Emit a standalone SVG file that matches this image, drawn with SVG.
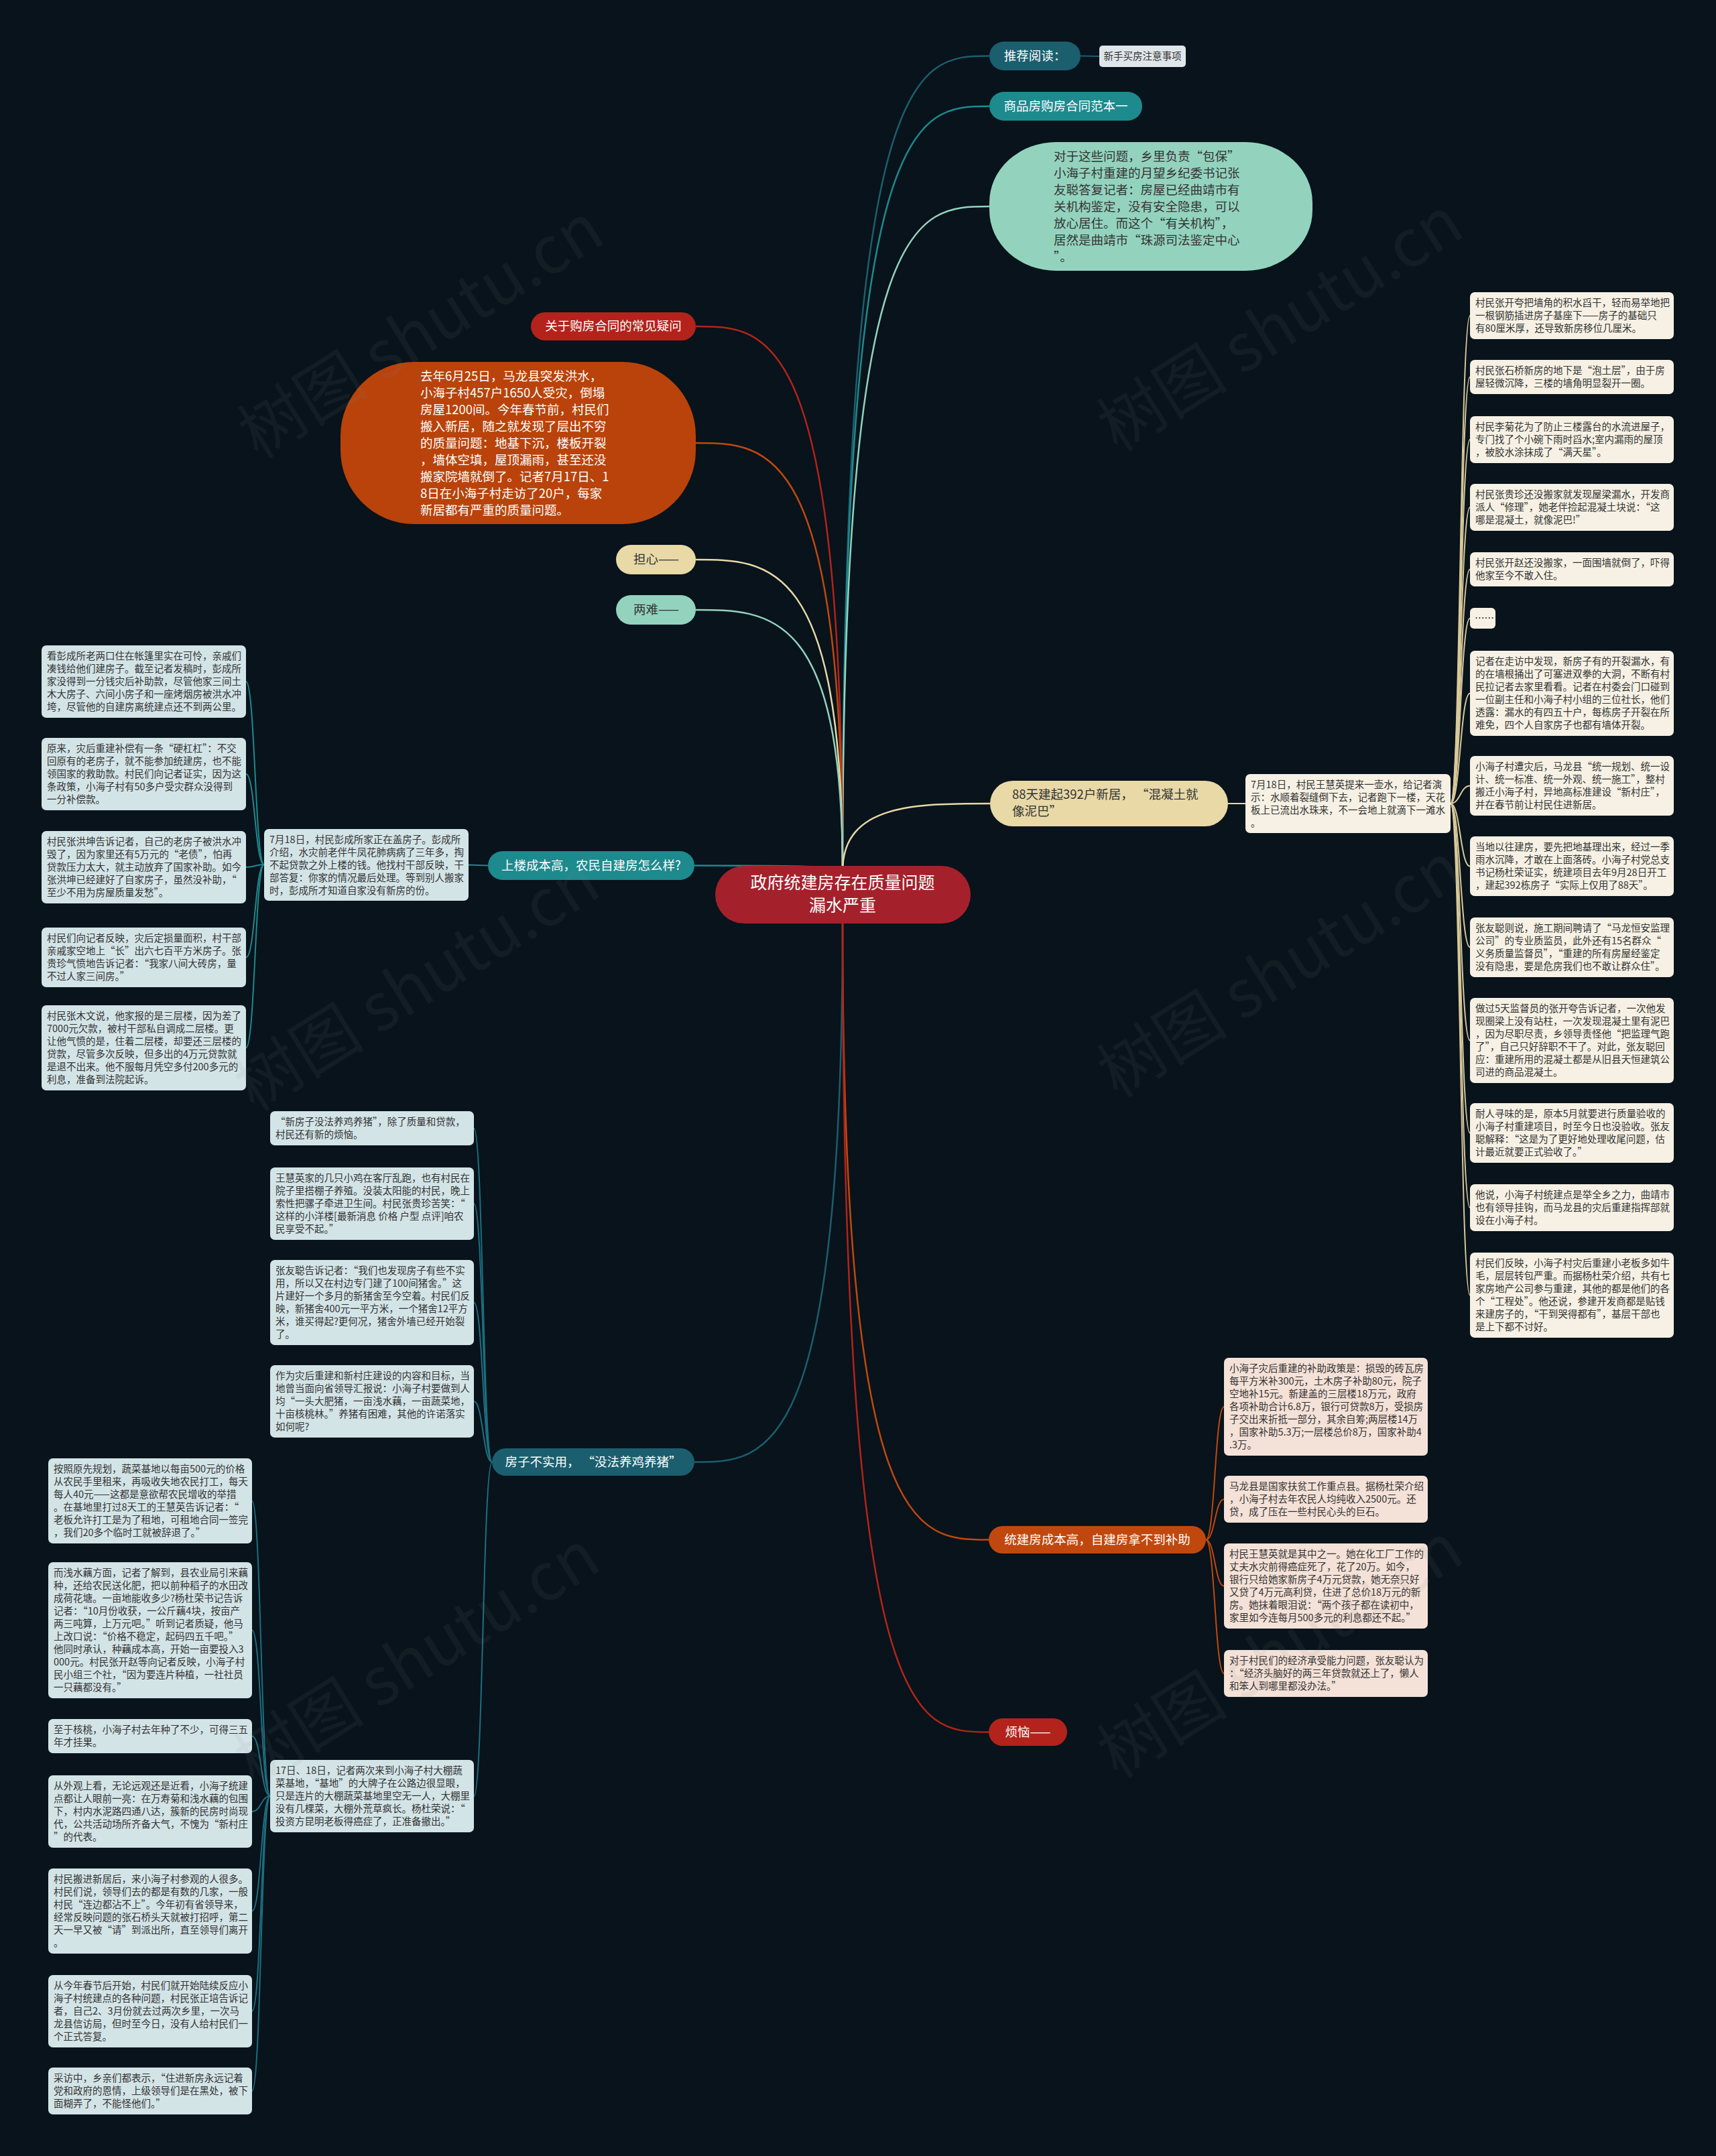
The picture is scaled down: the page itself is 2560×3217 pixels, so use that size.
<svg xmlns="http://www.w3.org/2000/svg" width="2560" height="3217" viewBox="0 0 2560 3217">
<style>
text{font-family:"Noto Sans CJK SC","Noto Sans",sans-serif}
.lf{font-size:14.5px;fill:#333}
.br{font-size:18.5px;fill:#fff}
.brd{font-size:18.5px;fill:#333}
.c{text-anchor:middle}
.ln{fill:none;stroke-width:2.5}
.sl{fill:none;stroke-width:2}
.wm{font-size:98px;fill:#808080;fill-opacity:0.09}
</style>
<rect width="2560" height="3217" fill="#08131b"/>
<g id="connectors">
<path class="ln" stroke="#1b5e6e" d="M1257 1300 C1257 83.5 1366 83.5 1476 83.5"/>
<path class="ln" stroke="#1d8a8e" d="M1257 1300 C1257 158.5 1366 158.5 1476 158.5"/>
<path class="ln" stroke="#93d3be" d="M1257 1300 C1257 308 1366 308 1476 308"/>
<path class="ln" stroke="#b3231b" d="M1257 1300 C1257 487 1147 487 1038 487"/>
<path class="ln" stroke="#c0480e" d="M1257 1300 C1257 661 1147 661 1038 661"/>
<path class="ln" stroke="#e8d9a7" d="M1257 1300 C1257 835 1147 835 1038 835"/>
<path class="ln" stroke="#93d3be" d="M1257 1300 C1257 910 1147 910 1038 910"/>
<path class="ln" stroke="#e8d9a7" d="M1257 1300 C1257 1199 1367 1199 1477 1199"/>
<path class="ln" stroke="#1d8a8e" d="M1257 1300 C1257 1291.5 1146 1291.5 1036 1291.5"/>
<path class="ln" stroke="#1b5e6e" d="M1257 1370 C1257 2181.5 1146 2181.5 1036 2181.5"/>
<path class="ln" stroke="#c0480e" d="M1257 1370 C1257 2297.5 1366 2297.5 1475 2297.5"/>
<path class="ln" stroke="#b3231b" d="M1257 1370 C1257 2584.5 1366 2584.5 1475 2584.5"/>
<path class="sl" stroke="#1b5e6e" d="M1612 83.5 L1640 84"/>
<path class="sl" stroke="#1d8a8e" d="M728 1291.5 L699 1290.5"/>
<path class="sl" stroke="#e8d9a7" d="M1832 1199 L1858 1199"/>
<g stroke="#d9c99a" class="sl">
<path d="M2164 1199 C2178.5 1199 2178.5 471 2193 471"/>
<path d="M2164 1199 C2178.5 1199 2178.5 562.5 2193 562.5"/>
<path d="M2164 1199 C2178.5 1199 2178.5 656 2193 656"/>
<path d="M2164 1199 C2178.5 1199 2178.5 757 2193 757"/>
<path d="M2164 1199 C2178.5 1199 2178.5 849.5 2193 849.5"/>
<path d="M2164 1199 C2178.5 1199 2178.5 922.5 2193 922.5"/>
<path d="M2164 1199 C2178.5 1199 2178.5 1034.5 2193 1034.5"/>
<path d="M2164 1199 C2178.5 1199 2178.5 1172.5 2193 1172.5"/>
<path d="M2164 1199 C2178.5 1199 2178.5 1292.5 2193 1292.5"/>
<path d="M2164 1199 C2178.5 1199 2178.5 1413.5 2193 1413.5"/>
<path d="M2164 1199 C2178.5 1199 2178.5 1552.5 2193 1552.5"/>
<path d="M2164 1199 C2178.5 1199 2178.5 1690.5 2193 1690.5"/>
<path d="M2164 1199 C2178.5 1199 2178.5 1802 2193 1802"/>
<path d="M2164 1199 C2178.5 1199 2178.5 1932.5 2193 1932.5"/>
</g>
<g stroke="#1d8a8e" class="sl">
<path d="M394 1290 C380.5 1290 380.5 1017 367 1017"/>
<path d="M394 1290 C380.5 1290 380.5 1155 367 1155"/>
<path d="M394 1290 C380.5 1290 380.5 1294 367 1294"/>
<path d="M394 1290 C380.5 1290 380.5 1428.5 367 1428.5"/>
<path d="M394 1290 C380.5 1290 380.5 1563.5 367 1563.5"/>
</g>
<g stroke="#1d6f80" class="sl">
<path d="M734 2181.5 C720.5 2181.5 720.5 1683.5 707 1683.5"/>
<path d="M734 2181.5 C720.5 2181.5 720.5 1796 707 1796"/>
<path d="M734 2181.5 C720.5 2181.5 720.5 1943.5 707 1943.5"/>
<path d="M734 2181.5 C720.5 2181.5 720.5 2091 707 2091"/>
<path d="M734 2181.5 C720.5 2181.5 720.5 2680 707 2680"/>
</g>
<g stroke="#1d6f80" class="sl">
<path d="M403 2680 C389.5 2680 389.5 2239.5 376 2239.5"/>
<path d="M403 2680 C389.5 2680 389.5 2432.5 376 2432.5"/>
<path d="M403 2680 C389.5 2680 389.5 2590.5 376 2590.5"/>
<path d="M403 2680 C389.5 2680 389.5 2703 376 2703"/>
<path d="M403 2680 C389.5 2680 389.5 2851.5 376 2851.5"/>
<path d="M403 2680 C389.5 2680 389.5 3001 376 3001"/>
<path d="M403 2680 C389.5 2680 389.5 3120 376 3120"/>
</g>
<g stroke="#c0480e" class="sl">
<path d="M1799 2297.5 C1812.5 2297.5 1812.5 2099 1826 2099"/>
<path d="M1799 2297.5 C1812.5 2297.5 1812.5 2237 1826 2237"/>
<path d="M1799 2297.5 C1812.5 2297.5 1812.5 2366.5 1826 2366.5"/>
<path d="M1799 2297.5 C1812.5 2297.5 1812.5 2497 1826 2497"/>
</g>
</g>

<g id="center"><rect x="1067" y="1292" width="381" height="86" rx="43" fill="#a4212b"/>
<text class="c" x="1257" y="1326" font-size="25" fill="#fff">政府统建房存在质量问题</text>
<text class="c" x="1257" y="1360" font-size="25" fill="#fff">漏水严重</text></g>

<g id="n-tuijian"><rect x="1476" y="62" width="136" height="43" rx="21.5" fill="#1b5e6e"/><text class="br c" x="1544" y="90">推荐阅读：</text></g>
<g id="n-xinshou"><rect x="1640" y="68" width="129" height="32" rx="5" fill="#dfe6ea"/><text class="lf c" x="1704.5" y="89">新手买房注意事项</text></g>
<g id="n-hetong"><rect x="1476" y="137" width="228" height="43" rx="21.5" fill="#1d8a8e"/><text class="br c" x="1590" y="165">商品房购房合同范本一</text></g>
<g id="n-baobao"><rect x="1476" y="212" width="482" height="192" rx="100" ry="90" fill="#93d3be"/>
<text class="brd"><tspan x="1572" y="240">对于这些问题，乡里负责“包保”</tspan><tspan x="1572" y="265">小海子村重建的月望乡纪委书记张</tspan><tspan x="1572" y="290">友聪答复记者：房屋已经曲靖市有</tspan><tspan x="1572" y="315">关机构鉴定，没有安全隐患，可以</tspan><tspan x="1572" y="340">放心居住。而这个“有关机构”，</tspan><tspan x="1572" y="365">居然是曲靖市“珠源司法鉴定中心</tspan><tspan x="1572" y="390">”。</tspan></text></g>

<g id="n-yiwen"><rect x="792" y="466" width="246" height="42" rx="21" fill="#b3231b"/><text class="br c" x="915" y="493">关于购房合同的常见疑问</text></g>
<g id="n-qunian"><rect x="508" y="540" width="530" height="242" rx="110" ry="110" fill="#b9430b"/>
<text class="br"><tspan x="627" y="568">去年6月25日，马龙县突发洪水，</tspan><tspan x="627" y="593">小海子村457户1650人受灾，倒塌</tspan><tspan x="627" y="618">房屋1200间。今年春节前，村民们</tspan><tspan x="627" y="643">搬入新居，随之就发现了层出不穷</tspan><tspan x="627" y="668">的质量问题：地基下沉，楼板开裂</tspan><tspan x="627" y="693">，墙体空填，屋顶漏雨，甚至还没</tspan><tspan x="627" y="718">搬家院墙就倒了。记者7月17日、1</tspan><tspan x="627" y="743">8日在小海子村走访了20户，每家</tspan><tspan x="627" y="768">新居都有严重的质量问题。</tspan></text></g>
<g id="n-danxin"><rect x="919" y="813" width="119" height="44" rx="22" fill="#e8d9a7"/><text class="brd c" x="979" y="841">担心——</text></g>
<g id="n-liangnan"><rect x="919" y="888" width="119" height="44" rx="22" fill="#93d3be"/><text class="brd c" x="979" y="916">两难——</text></g>

<g id="n-shanglou"><rect x="728" y="1270" width="308" height="43" rx="21.5" fill="#1d8a8e"/><text class="br c" x="882" y="1298">上楼成本高，农民自建房怎么样?</text></g>
<g id="n-pengcs"><rect x="394" y="1237" width="305" height="107" rx="7" fill="#d3e4e7"/>
<text class="lf"><tspan x="402" y="1258">7月18日，村民彭成所家正在盖房子。彭成所</tspan><tspan x="402" y="1277">介绍，水灾前老伴牛凤花肺病病了三年多，掏</tspan><tspan x="402" y="1296">不起贷款之外上楼的钱。他找村干部反映，干</tspan><tspan x="402" y="1315">部答复：你家的情况最后处理。等到别人搬家</tspan><tspan x="402" y="1334">时，彭成所才知道自家没有新房的份。</tspan></text></g>

<g id="l-1"><rect x="62" y="963" width="305" height="108" rx="7" fill="#d3e4e7"/>
<text class="lf"><tspan x="70" y="984">看彭成所老两口住在帐篷里实在可怜，亲戚们</tspan><tspan x="70" y="1003">凑钱给他们建房子。截至记者发稿时，彭成所</tspan><tspan x="70" y="1022">家没得到一分钱灾后补助款，尽管他家三间土</tspan><tspan x="70" y="1041">木大房子、六间小房子和一座烤烟房被洪水冲</tspan><tspan x="70" y="1060">垮，尽管他的自建房离统建点还不到两公里。</tspan></text></g>
<g id="l-2"><rect x="62" y="1101" width="305" height="108" rx="7" fill="#d3e4e7"/>
<text class="lf"><tspan x="70" y="1122">原来，灾后重建补偿有一条“硬杠杠”：不交</tspan><tspan x="70" y="1141">回原有的老房子，就不能参加统建房，也不能</tspan><tspan x="70" y="1160">领国家的救助款。村民们向记者证实，因为这</tspan><tspan x="70" y="1179">条政策，小海子村有50多户受灾群众没得到</tspan><tspan x="70" y="1198">一分补偿款。</tspan></text></g>
<g id="l-3"><rect x="62" y="1240" width="305" height="108" rx="7" fill="#d3e4e7"/>
<text class="lf"><tspan x="70" y="1261">村民张洪坤告诉记者，自己的老房子被洪水冲</tspan><tspan x="70" y="1280">毁了，因为家里还有5万元的“老债”，怕再</tspan><tspan x="70" y="1299">贷款压力太大，就主动放弃了国家补助。如今</tspan><tspan x="70" y="1318">张洪坤已经建好了自家房子，虽然没补助，“</tspan><tspan x="70" y="1337">至少不用为房屋质量发愁”。</tspan></text></g>
<g id="l-4"><rect x="62" y="1384" width="305" height="89" rx="7" fill="#d3e4e7"/>
<text class="lf"><tspan x="70" y="1405">村民们向记者反映，灾后定损量面积，村干部</tspan><tspan x="70" y="1424">亲戚家空地上“长”出六七百平方米房子。张</tspan><tspan x="70" y="1443">贵珍气愤地告诉记者：“我家八间大砖房，量</tspan><tspan x="70" y="1462">不过人家三间房。”</tspan></text></g>
<g id="l-5"><rect x="62" y="1500" width="305" height="127" rx="7" fill="#d3e4e7"/>
<text class="lf"><tspan x="70" y="1521">村民张木文说，他家报的是三层楼，因为差了</tspan><tspan x="70" y="1540">7000元欠款，被村干部私自调成二层楼。更</tspan><tspan x="70" y="1559">让他气愤的是，住着二层楼，却要还三层楼的</tspan><tspan x="70" y="1578">贷款，尽管多次反映，但多出的4万元贷款就</tspan><tspan x="70" y="1597">是退不出来。他不服每月凭空多付200多元的</tspan><tspan x="70" y="1616">利息，准备到法院起诉。</tspan></text></g>

<g id="n-88tian"><rect x="1477" y="1165" width="355" height="68" rx="34" fill="#e8d9a7"/>
<text class="brd"><tspan x="1510" y="1192">88天建起392户新居， “混凝土就</tspan><tspan x="1510" y="1217">像泥巴”</tspan></text></g>
<g id="n-wanghy"><rect x="1858" y="1155" width="306" height="88" rx="7" fill="#f6f1e4"/>
<text class="lf"><tspan x="1866" y="1176">7月18日，村民王慧英提来一壶水，给记者演</tspan><tspan x="1866" y="1195">示：水顺着裂缝倒下去，记者跑下一楼，天花</tspan><tspan x="1866" y="1214">板上已流出水珠来，不一会地上就滴下一滩水</tspan><tspan x="1866" y="1233">。</tspan></text></g>

<g id="r-1"><rect x="2193" y="436" width="304" height="70" rx="7" fill="#f6f1e4"/>
<text class="lf"><tspan x="2201" y="457">村民张开夸把墙角的积水舀干，轻而易举地把</tspan><tspan x="2201" y="476">一根钢筋插进房子基座下——房子的基础只</tspan><tspan x="2201" y="495">有80厘米厚，还导致新房移位几厘米。</tspan></text></g>
<g id="r-2"><rect x="2193" y="537" width="304" height="51" rx="7" fill="#f6f1e4"/>
<text class="lf"><tspan x="2201" y="558">村民张石桥新房的地下是“泡土层”，由于房</tspan><tspan x="2201" y="577">屋轻微沉降，三楼的墙角明显裂开一圈。</tspan></text></g>
<g id="r-3"><rect x="2193" y="621" width="304" height="70" rx="7" fill="#f6f1e4"/>
<text class="lf"><tspan x="2201" y="642">村民李菊花为了防止三楼露台的水流进屋子，</tspan><tspan x="2201" y="661">专门找了个小碗下雨时舀水;室内漏雨的屋顶</tspan><tspan x="2201" y="680">，被胶水涂抹成了“满天星”。</tspan></text></g>
<g id="r-4"><rect x="2193" y="722" width="304" height="70" rx="7" fill="#f6f1e4"/>
<text class="lf"><tspan x="2201" y="743">村民张贵珍还没搬家就发现屋梁漏水，开发商</tspan><tspan x="2201" y="762">派人“修理”，她老伴捡起混凝土块说：“这</tspan><tspan x="2201" y="781">哪是混凝土，就像泥巴!”</tspan></text></g>
<g id="r-5"><rect x="2193" y="824" width="304" height="51" rx="7" fill="#f6f1e4"/>
<text class="lf"><tspan x="2201" y="845">村民张开赵还没搬家，一面围墙就倒了，吓得</tspan><tspan x="2201" y="864">他家至今不敢入住。</tspan></text></g>
<g id="r-6"><rect x="2193" y="907" width="38" height="31" rx="6" fill="#f6f1e4"/><text class="lf" x="2200" y="928">……</text></g>
<g id="r-7"><rect x="2193" y="971" width="304" height="127" rx="7" fill="#f6f1e4"/>
<text class="lf"><tspan x="2201" y="992">记者在走访中发现，新房子有的开裂漏水，有</tspan><tspan x="2201" y="1011">的在墙根捅出了可塞进双拳的大洞，不断有村</tspan><tspan x="2201" y="1030">民拉记者去家里看看。记者在村委会门口碰到</tspan><tspan x="2201" y="1049">一位副主任和小海子村小组的三位社长，他们</tspan><tspan x="2201" y="1068">透露：漏水的有四五十户，每栋房子开裂在所</tspan><tspan x="2201" y="1087">难免，四个人自家房子也都有墙体开裂。</tspan></text></g>
<g id="r-8"><rect x="2193" y="1128" width="304" height="89" rx="7" fill="#f6f1e4"/>
<text class="lf"><tspan x="2201" y="1149">小海子村遭灾后，马龙县“统一规划、统一设</tspan><tspan x="2201" y="1168">计、统一标准、统一外观、统一施工”，整村</tspan><tspan x="2201" y="1187">搬迁小海子村，异地高标准建设“新村庄”，</tspan><tspan x="2201" y="1206">并在春节前让村民住进新居。</tspan></text></g>
<g id="r-9"><rect x="2193" y="1248" width="304" height="89" rx="7" fill="#f6f1e4"/>
<text class="lf"><tspan x="2201" y="1269">当地以往建房，要先把地基理出来，经过一季</tspan><tspan x="2201" y="1288">雨水沉降，才敢在上面落砖。小海子村党总支</tspan><tspan x="2201" y="1307">书记杨杜荣证实，统建项目去年9月28日开工</tspan><tspan x="2201" y="1326">，建起392栋房子“实际上仅用了88天”。</tspan></text></g>
<g id="r-10"><rect x="2193" y="1369" width="304" height="89" rx="7" fill="#f6f1e4"/>
<text class="lf"><tspan x="2201" y="1390">张友聪则说，施工期间聘请了“马龙恒安监理</tspan><tspan x="2201" y="1409">公司”的专业质监员，此外还有15名群众“</tspan><tspan x="2201" y="1428">义务质量监督员”，“重建的所有房屋经鉴定</tspan><tspan x="2201" y="1447">没有隐患，要是危房我们也不敢让群众住”。</tspan></text></g>
<g id="r-11"><rect x="2193" y="1489" width="304" height="127" rx="7" fill="#f6f1e4"/>
<text class="lf"><tspan x="2201" y="1510">做过5天监督员的张开夸告诉记者，一次他发</tspan><tspan x="2201" y="1529">现圈梁上没有站柱，一次发现混凝土里有泥巴</tspan><tspan x="2201" y="1548">，因为尽职尽责，乡领导责怪他“把监理气跑</tspan><tspan x="2201" y="1567">了”，自己只好辞职不干了。对此，张友聪回</tspan><tspan x="2201" y="1586">应：重建所用的混凝土都是从旧县天恒建筑公</tspan><tspan x="2201" y="1605">司进的商品混凝土。</tspan></text></g>
<g id="r-12"><rect x="2193" y="1646" width="304" height="89" rx="7" fill="#f6f1e4"/>
<text class="lf"><tspan x="2201" y="1667">耐人寻味的是，原本5月就要进行质量验收的</tspan><tspan x="2201" y="1686">小海子村重建项目，时至今日也没验收。张友</tspan><tspan x="2201" y="1705">聪解释：“这是为了更好地处理收尾问题，估</tspan><tspan x="2201" y="1724">计最近就要正式验收了。”</tspan></text></g>
<g id="r-13"><rect x="2193" y="1767" width="304" height="70" rx="7" fill="#f6f1e4"/>
<text class="lf"><tspan x="2201" y="1788">他说，小海子村统建点是举全乡之力，曲靖市</tspan><tspan x="2201" y="1807">也有领导挂钩，而马龙县的灾后重建指挥部就</tspan><tspan x="2201" y="1826">设在小海子村。</tspan></text></g>
<g id="r-14"><rect x="2193" y="1869" width="304" height="127" rx="7" fill="#f6f1e4"/>
<text class="lf"><tspan x="2201" y="1890">村民们反映，小海子村灾后重建小老板多如牛</tspan><tspan x="2201" y="1909">毛，层层转包严重。而据杨杜荣介绍，共有七</tspan><tspan x="2201" y="1928">家房地产公司参与重建，其他的都是他们的各</tspan><tspan x="2201" y="1947">个“工程处”。他还说，参建开发商都是贴钱</tspan><tspan x="2201" y="1966">来建房子的，“干到哭得都有”，基层干部也</tspan><tspan x="2201" y="1985">是上下都不讨好。</tspan></text></g>

<g id="n-bushiyong"><rect x="734" y="2161" width="302" height="41" rx="20.5" fill="#1b5e6e"/><text class="br c" x="885" y="2188">房子不实用， “没法养鸡养猪”</text></g>
<g id="m-1"><rect x="403" y="1658" width="304" height="51" rx="7" fill="#d3e4e7"/>
<text class="lf"><tspan x="411" y="1679">“新房子没法养鸡养猪”，除了质量和贷款，</tspan><tspan x="411" y="1698">村民还有新的烦恼。</tspan></text></g>
<g id="m-2"><rect x="403" y="1742" width="304" height="108" rx="7" fill="#d3e4e7"/>
<text class="lf"><tspan x="411" y="1763">王慧英家的几只小鸡在客厅乱跑，也有村民在</tspan><tspan x="411" y="1782">院子里搭棚子养殖。没装太阳能的村民，晚上</tspan><tspan x="411" y="1801">索性把骡子牵进卫生间。村民张贵珍苦笑：“</tspan><tspan x="411" y="1820">这样的小洋楼[最新消息 价格 户型 点评]咱农</tspan><tspan x="411" y="1839">民享受不起。”</tspan></text></g>
<g id="m-3"><rect x="403" y="1880" width="304" height="127" rx="7" fill="#d3e4e7"/>
<text class="lf"><tspan x="411" y="1901">张友聪告诉记者：“我们也发现房子有些不实</tspan><tspan x="411" y="1920">用，所以又在村边专门建了100间猪舍。”这</tspan><tspan x="411" y="1939">片建好一个多月的新猪舍至今空着。村民们反</tspan><tspan x="411" y="1958">映，新猪舍400元一平方米，一个猪舍12平方</tspan><tspan x="411" y="1977">米，谁买得起?更何况，猪舍外墙已经开始裂</tspan><tspan x="411" y="1996">了。</tspan></text></g>
<g id="m-4"><rect x="403" y="2037" width="304" height="108" rx="7" fill="#d3e4e7"/>
<text class="lf"><tspan x="411" y="2058">作为灾后重建和新村庄建设的内容和目标，当</tspan><tspan x="411" y="2077">地曾当面向省领导汇报说：小海子村要做到人</tspan><tspan x="411" y="2096">均“一头大肥猪，一亩浅水藕，一亩蔬菜地，</tspan><tspan x="411" y="2115">十亩核桃林。”养猪有困难，其他的许诺落实</tspan><tspan x="411" y="2134">如何呢?</tspan></text></g>
<g id="m-5"><rect x="403" y="2626" width="304" height="108" rx="7" fill="#d3e4e7"/>
<text class="lf"><tspan x="411" y="2647">17日、18日，记者两次来到小海子村大棚蔬</tspan><tspan x="411" y="2666">菜基地，“基地”的大牌子在公路边很显眼，</tspan><tspan x="411" y="2685">只是连片的大棚蔬菜基地里空无一人，大棚里</tspan><tspan x="411" y="2704">没有几棵菜，大棚外荒草疯长。杨杜荣说：“</tspan><tspan x="411" y="2723">投资方昆明老板得癌症了，正准备撤出。”</tspan></text></g>

<g id="b-1"><rect x="72" y="2176" width="304" height="127" rx="7" fill="#d3e4e7"/>
<text class="lf"><tspan x="80" y="2197">按照原先规划，蔬菜基地以每亩500元的价格</tspan><tspan x="80" y="2216">从农民手里租来，再吸收失地农民打工，每天</tspan><tspan x="80" y="2235">每人40元——这都是意欲帮农民增收的举措</tspan><tspan x="80" y="2254">。在基地里打过8天工的王慧英告诉记者：“</tspan><tspan x="80" y="2273">老板允许打工是为了租地，可租地合同一签完</tspan><tspan x="80" y="2292">，我们20多个临时工就被辞退了。”</tspan></text></g>
<g id="b-2"><rect x="72" y="2331" width="304" height="203" rx="7" fill="#d3e4e7"/>
<text class="lf"><tspan x="80" y="2352">而浅水藕方面，记者了解到，县农业局引来藕</tspan><tspan x="80" y="2371">种，还给农民送化肥，把以前种稻子的水田改</tspan><tspan x="80" y="2390">成荷花塘。一亩地能收多少?杨杜荣书记告诉</tspan><tspan x="80" y="2409">记者：“10月份收获，一公斤藕4块，按亩产</tspan><tspan x="80" y="2428">两三吨算，上万元吧。”听到记者质疑，他马</tspan><tspan x="80" y="2447">上改口说：“价格不稳定，起码四五千吧。”</tspan><tspan x="80" y="2466">他同时承认，种藕成本高，开始一亩要投入3</tspan><tspan x="80" y="2485">000元。村民张开赵等向记者反映，小海子村</tspan><tspan x="80" y="2504">民小组三个社，“因为要连片种植，一社社员</tspan><tspan x="80" y="2523">一只藕都没有。”</tspan></text></g>
<g id="b-3"><rect x="72" y="2565" width="304" height="51" rx="7" fill="#d3e4e7"/>
<text class="lf"><tspan x="80" y="2586">至于核桃，小海子村去年种了不少，可得三五</tspan><tspan x="80" y="2605">年才挂果。</tspan></text></g>
<g id="b-4"><rect x="72" y="2649" width="304" height="108" rx="7" fill="#d3e4e7"/>
<text class="lf"><tspan x="80" y="2670">从外观上看，无论远观还是近看，小海子统建</tspan><tspan x="80" y="2689">点都让人眼前一亮：在万寿菊和浅水藕的包围</tspan><tspan x="80" y="2708">下，村内水泥路四通八达，簇新的民房时尚现</tspan><tspan x="80" y="2727">代，公共活动场所齐备大气，不愧为“新村庄</tspan><tspan x="80" y="2746">”的代表。</tspan></text></g>
<g id="b-5"><rect x="72" y="2788" width="304" height="127" rx="7" fill="#d3e4e7"/>
<text class="lf"><tspan x="80" y="2809">村民搬进新居后，来小海子村参观的人很多。</tspan><tspan x="80" y="2828">村民们说，领导们去的都是有数的几家，一般</tspan><tspan x="80" y="2847">村民“连边都沾不上”。今年初有省领导来，</tspan><tspan x="80" y="2866">经常反映问题的张石桥头天就被打招呼，第二</tspan><tspan x="80" y="2885">天一早又被“请”到派出所，直至领导们离开</tspan><tspan x="80" y="2904">。</tspan></text></g>
<g id="b-6"><rect x="72" y="2947" width="304" height="108" rx="7" fill="#d3e4e7"/>
<text class="lf"><tspan x="80" y="2968">从今年春节后开始，村民们就开始陆续反应小</tspan><tspan x="80" y="2987">海子村统建点的各种问题，村民张正培告诉记</tspan><tspan x="80" y="3006">者，自己2、3月份就去过两次乡里，一次马</tspan><tspan x="80" y="3025">龙县信访局，但时至今日，没有人给村民们一</tspan><tspan x="80" y="3044">个正式答复。</tspan></text></g>
<g id="b-7"><rect x="72" y="3085" width="304" height="70" rx="7" fill="#d3e4e7"/>
<text class="lf"><tspan x="80" y="3106">采访中，乡亲们都表示，“住进新房永远记着</tspan><tspan x="80" y="3125">党和政府的恩情，上级领导们是在黑处，被下</tspan><tspan x="80" y="3144">面糊弄了，不能怪他们。”</tspan></text></g>

<g id="n-chengben"><rect x="1475" y="2277" width="324" height="41" rx="20.5" fill="#c0480e"/><text class="br c" x="1637" y="2304">统建房成本高，自建房拿不到补助</text></g>
<g id="p-1"><rect x="1826" y="2026" width="304" height="146" rx="7" fill="#f4e1d7"/>
<text class="lf"><tspan x="1834" y="2047">小海子灾后重建的补助政策是：损毁的砖瓦房</tspan><tspan x="1834" y="2066">每平方米补300元，土木房子补助80元，院子</tspan><tspan x="1834" y="2085">空地补15元。新建盖的三层楼18万元，政府</tspan><tspan x="1834" y="2104">各项补助合计6.8万，银行可贷款8万，受损房</tspan><tspan x="1834" y="2123">子交出来折抵一部分，其余自筹;两层楼14万</tspan><tspan x="1834" y="2142">，国家补助5.3万;一层楼总价8万，国家补助4</tspan><tspan x="1834" y="2161">.3万。</tspan></text></g>
<g id="p-2"><rect x="1826" y="2202" width="304" height="70" rx="7" fill="#f4e1d7"/>
<text class="lf"><tspan x="1834" y="2223">马龙县是国家扶贫工作重点县。据杨杜荣介绍</tspan><tspan x="1834" y="2242">，小海子村去年农民人均纯收入2500元。还</tspan><tspan x="1834" y="2261">贷，成了压在一些村民心头的巨石。</tspan></text></g>
<g id="p-3"><rect x="1826" y="2303" width="304" height="127" rx="7" fill="#f4e1d7"/>
<text class="lf"><tspan x="1834" y="2324">村民王慧英就是其中之一。她在化工厂工作的</tspan><tspan x="1834" y="2343">丈夫水灾前得癌症死了，花了20万。如今，</tspan><tspan x="1834" y="2362">银行只给她家新房子4万元贷款，她无奈只好</tspan><tspan x="1834" y="2381">又贷了4万元高利贷，住进了总价18万元的新</tspan><tspan x="1834" y="2400">房。她抹着眼泪说：“两个孩子都在读初中，</tspan><tspan x="1834" y="2419">家里如今连每月500多元的利息都还不起。”</tspan></text></g>
<g id="p-4"><rect x="1826" y="2462" width="304" height="70" rx="7" fill="#f4e1d7"/>
<text class="lf"><tspan x="1834" y="2483">对于村民们的经济承受能力问题，张友聪认为</tspan><tspan x="1834" y="2502">：“经济头脑好的两三年贷款就还上了，懒人</tspan><tspan x="1834" y="2521">和笨人到哪里都没办法。”</tspan></text></g>

<g id="n-fannao"><rect x="1475" y="2564" width="117" height="41" rx="20.5" fill="#b3231b"/><text class="br c" x="1533.5" y="2591">烦恼——</text></g>

<g id="watermarks">
<text class="wm c" transform="translate(646 523) rotate(-32)">树图 shutu.cn</text>
<text class="wm c" transform="translate(1928 513) rotate(-32)">树图 shutu.cn</text>
<text class="wm c" transform="translate(640 1497) rotate(-32)">树图 shutu.cn</text>
<text class="wm c" transform="translate(1928 1477) rotate(-32)">树图 shutu.cn</text>
<text class="wm c" transform="translate(640 2503) rotate(-32)">树图 shutu.cn</text>
<text class="wm c" transform="translate(1928 2492) rotate(-32)">树图 shutu.cn</text>
</g>
</svg>
